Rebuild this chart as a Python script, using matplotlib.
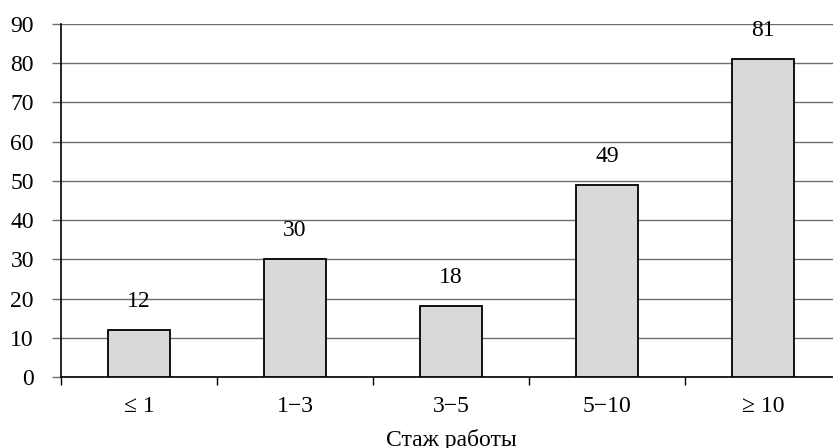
import matplotlib.pyplot as plt
import numpy as np

categories = ["\u2264 1", "1\u22123", "3\u22125", "5\u221210", "\u2265 10"]
values = [12, 30, 18, 49, 81]
y_ticks = list(range(0, 91, 10))

plt.rcParams['font.family'] = ['Liberation Serif', 'DejaVu Serif']
FS = 17

fig = plt.figure(figsize=(8.33, 4.48), dpi=100)
# the plot area runs slightly past the right edge, as in the reference
ax = fig.add_axes([61 / 833, 71 / 448, 780 / 833, 353 / 448])

x = np.arange(len(categories))
bars = ax.bar(x, values, width=0.4, color="#d9d9d9", edgecolor="black",
              linewidth=1.3, zorder=3)

for bar, val in zip(bars, values):
    ax.annotate(str(val), (bar.get_x() + bar.get_width() / 2, bar.get_height()),
                xytext=(0, 13), textcoords="offset points",
                ha="center", va="bottom", fontsize=FS)

ax.set_xlim(-0.5, len(categories) - 0.5)
ax.set_ylim(0, 90)
ax.set_yticks(y_ticks)
ax.set_xticks(x)
ax.set_xticklabels(categories)
ax.set_xticks(np.arange(len(categories) + 1) - 0.5, minor=True)

ax.yaxis.grid(True, color="#6e6e6e", linewidth=1.0, zorder=0)
ax.set_axisbelow(True)

for side in ("top", "right"):
    ax.spines[side].set_visible(False)
ax.spines["left"].set_linewidth(1.2)
ax.spines["bottom"].set_linewidth(1.2)

ax.tick_params(axis="y", direction="out", length=6.5, width=1.0,
               pad=13, labelsize=FS, color="#6e6e6e")
ax.tick_params(axis="x", which="major", length=0, pad=14, labelsize=FS)
ax.tick_params(axis="x", which="minor", direction="out", length=6, width=1.0)

ax.set_xlabel("Стаж работы", fontsize=FS, labelpad=8)

fig.savefig("out.png", dpi=100)
